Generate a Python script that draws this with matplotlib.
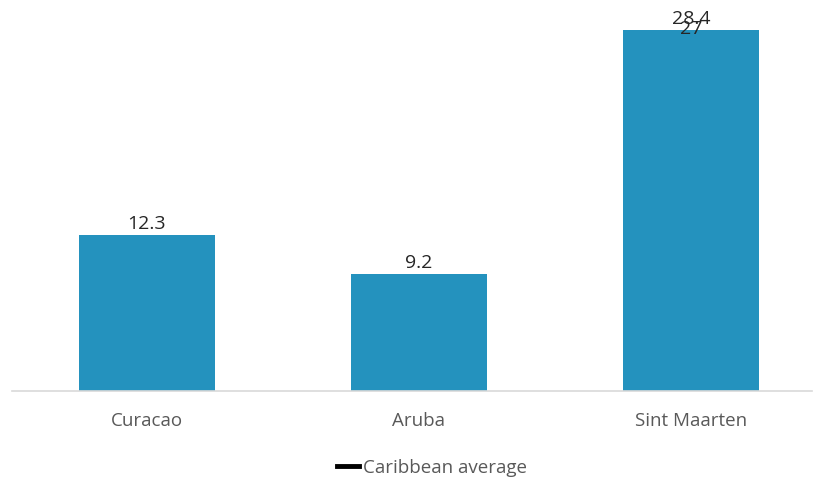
import matplotlib
matplotlib.use("Agg")
from matplotlib import pyplot as plt
from matplotlib.lines import Line2D
import numpy as np

countries = ["Curacao", "Aruba", "Sint Maarten"]
values = [12.3, 9.2, 28.4]
caribbean_avg = [np.nan, np.nan, 27]

plt.rcParams['font.family'] = ['Open Sans', 'DejaVu Sans']

fig = plt.figure(figsize=(8.17, 4.82), dpi=100)
ax = fig.add_axes([12/817, 91/482, 800/817, 381/482])

x = np.arange(len(countries))
bars = ax.bar(x, values, width=0.5, color="#2492be")
ax.plot(x, caribbean_avg, color="black", linewidth=0)

for xi, v in zip(x, values):
    ax.text(xi, v + 0.15, f"{v:g}", ha="center", va="bottom", fontsize=14, color="#262626")
for xi, v in zip(x, caribbean_avg):
    if not np.isnan(v):
        ax.text(xi, v + 0.8, f"{v:g}", ha="center", va="bottom", fontsize=14, color="#262626")

ax.set_xlim(-0.496, 2.445)
ax.set_ylim(0, 30)
ax.set_yticks([])
ax.set_xticks(x)
ax.set_xticklabels(countries, fontsize=13.5, color="#595959")
ax.tick_params(axis="x", length=0, pad=15)
for s in ["top", "right", "left"]:
    ax.spines[s].set_visible(False)
ax.spines["bottom"].set_color("#d9d9d9")
ax.spines["bottom"].set_linewidth(1.2)

handle = Line2D([], [], color="black", linewidth=3.5)
fig.legend([handle], ["Caribbean average"], loc="center", bbox_to_anchor=(432/817, 1 - 468/482),
           frameon=False, fontsize=13.5, handlelength=1.2, handletextpad=0.2, labelcolor="#595959")

fig.savefig("out.png", dpi=100)
